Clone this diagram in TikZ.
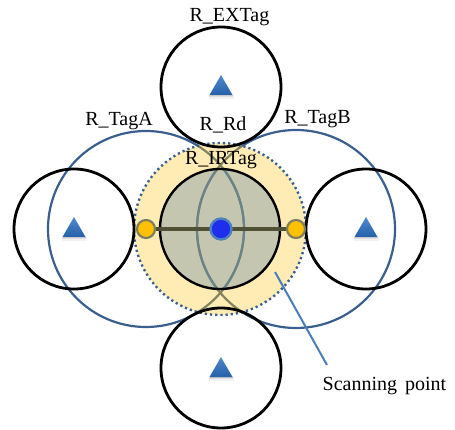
\documentclass[tikz,border=0pt]{standalone}
\usepackage{fontspec}
\setmainfont{Liberation Serif}
\usetikzlibrary{calc}
\definecolor{ringblue}{RGB}{58,95,142}
\definecolor{ringolive}{RGB}{130,132,96}
\definecolor{ringgray}{RGB}{104,132,138}
\definecolor{halofill}{RGB}{255,236,181}
\definecolor{rdfill}{RGB}{197,198,176}
\definecolor{axisline}{RGB}{80,80,52}
\definecolor{tagorange}{RGB}{255,192,0}
\definecolor{tagedge}{RGB}{127,127,95}
\definecolor{readerblue}{RGB}{30,45,238}
\definecolor{readeredge}{RGB}{79,129,189}
\definecolor{pointerblue}{RGB}{74,126,187}
\definecolor{triTop}{RGB}{78,138,205}
\definecolor{triBot}{RGB}{38,96,170}
\tikzset{
  tagring/.style={line width=2.2pt},
  coverage/.style={draw=black, line width=2.8pt},
  irring/.style={draw=ringblue, line width=2.4pt, dash pattern=on 2.2pt off 3pt},
  axisbar/.style={draw=axisline, line width=3.2pt},
  tagdot/.style={fill=tagorange, draw=tagedge, line width=2.2pt},
  readerdot/.style={fill=readerblue, draw=readeredge, line width=2.4pt},
  lbl/.style={anchor=base, inner sep=0pt, text=black, font=\fontsize{20}{24}\selectfont},
  tagtri/.pic={
    \foreach \k/\o in {1/0.10,2/0.08,3/0.05}
      \fill[black, opacity=\o] (-11-\k*0.5,8) rectangle (11+\k*0.5,8+\k*1.2);
    \shade[top color=triTop, bottom color=triBot] (0,-12) -- (11.5,8) -- (-11.5,8) -- cycle;
  }
}
\begin{document}
\begin{tikzpicture}[x=1pt,y=-1pt]
\useasboundingbox (0,0) rectangle (455,430);

% centres
\coordinate (rd) at (220,229);
\coordinate (tagA) at (146,229);
\coordinate (tagB) at (296,229);
\coordinate (exTop) at (221,87);
\coordinate (exBot) at (221,368);
\coordinate (exLeft) at (74,229);
\coordinate (exRight) at (366,229);

% IR tag halo and reader disc
\fill[halofill] (rd) circle (86pt);
\fill[rdfill] (rd) circle (60pt);

% tag rings: full colour outside the halo, tinted where they cross the fills
\begin{scope}[even odd rule]
  \clip (0,0) rectangle (455,430) (rd) circle (86pt);
  \draw[tagring, draw=ringblue] (tagA) circle (98pt) (tagB) circle (99pt);
\end{scope}
\begin{scope}
  \clip (rd) circle (86pt);
  \draw[tagring, draw=ringolive] (tagA) circle (98pt) (tagB) circle (99pt);
\end{scope}
\begin{scope}
  \clip (rd) circle (58.8pt);
  \draw[tagring, draw=ringgray] (tagA) circle (98pt) (tagB) circle (99pt);
\end{scope}

% outlines
\draw[irring] (rd) circle (86pt);
\draw[draw=black, line width=2.4pt] (rd) circle (60pt);
\foreach \c in {exTop,exBot,exLeft,exRight}
  \draw[coverage] (\c) circle (60pt);

% axis between the two tags
\draw[axisbar] (tagA) -- (tagB);
\draw[tagdot] (tagA) circle (9pt);
\draw[tagdot] (tagB) circle (9pt);
\draw[readerdot] ($(rd)+(1,0)$) circle (10.5pt);

% external tags
\foreach \c in {exTop,exLeft,exRight}
  \pic at (\c) {tagtri};
\pic at ($(exBot)+(0,1)$) {tagtri};

% scanning point pointer
\coordinate (scanFrom) at (275,272);
\coordinate (scanTo) at (327,365);
\draw[draw=pointerblue, line width=2pt] (scanFrom) -- (scanTo);

% labels
\node[lbl] (lEX) at (229.5,21.5) {R\_EXTag};
\node[lbl] (lA) at (119,126) {R\_TagA};
\node[lbl] (lRd) at (223,131) {R\_Rd};
\node[lbl] (lB) at (317.5,124) {R\_TagB};
\node[lbl] (lIR) at (221,164.5) {R\_IRTag};
\node[lbl] (lScan) at (384.5,390.5) {Scanning\hspace{3pt} point};
\end{tikzpicture}
\end{document}
